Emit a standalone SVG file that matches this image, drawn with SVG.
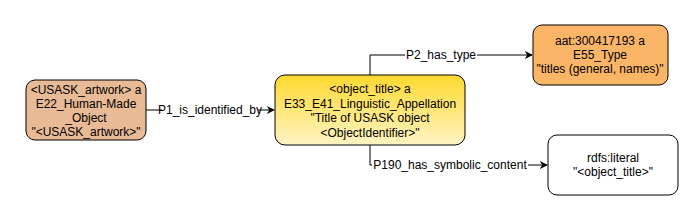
<svg xmlns="http://www.w3.org/2000/svg" width="695" height="221" viewBox="0 0 695 221">
<style>
text{font-family:"Liberation Sans",Arial,sans-serif;font-size:12px;fill:#000;text-anchor:middle}
.n{stroke:#000;stroke-width:1}
.e{fill:none;stroke:#000;stroke-width:1}
.lbl{fill:#fff}
</style>
<defs>
<linearGradient id="yg" x1="0" y1="0" x2="0" y2="1">
<stop offset="0" stop-color="#FFD92E"/>
<stop offset="1" stop-color="#FFF4C4"/>
</linearGradient>
<marker id="arr" viewBox="0 0 10 10" refX="9" refY="5" markerWidth="8" markerHeight="8" orient="auto" markerUnits="userSpaceOnUse">
<path d="M0,0 L10,5 L0,10 L3,5 Z" fill="#000"/>
</marker>
</defs>
<rect width="695" height="221" fill="#fff"/>
<g id="connectors">
<path class="e" d="M146,110 H274" marker-end="url(#arr)"/>
<rect class="lbl" x="162" y="103" width="96" height="14"/>
<text x="210" y="114">P1_is_identified_by</text>
<path class="e" d="M370,75 V55 H532" marker-end="url(#arr)"/>
<rect class="lbl" x="405" y="48" width="72" height="14"/>
<text x="441" y="59">P2_has_type</text>
<path class="e" d="M370,145 V165 H547" marker-end="url(#arr)"/>
<rect class="lbl" x="372" y="158" width="156" height="14"/>
<text x="450" y="169">P190_has_symbolic_content</text>
</g>
<g id="node-artwork">
<rect class="n" x="26" y="80" width="120" height="60" rx="9" fill="#E8BA96"/>
<text x="86" y="94">&lt;USASK_artwork&gt; a</text>
<text x="86" y="108">E22_Human-Made</text>
<text x="86" y="122">_Object</text>
<text x="86" y="136">"&lt;USASK_artwork&gt;"</text>
</g>
<g id="node-title">
<rect class="n" x="275" y="75" width="190" height="70" rx="10" fill="url(#yg)"/>
<text x="370" y="93">&lt;object_title&gt; a</text>
<text x="370" y="107.5">E33_E41_Linguistic_Appellation</text>
<text x="370" y="122">"Title of USASK object</text>
<text x="370" y="136.5">&lt;ObjectIdentifier&gt;"</text>
</g>
<g id="node-type">
<rect class="n" x="533" y="25" width="135" height="60" rx="9" fill="#FBB567"/>
<text x="600" y="45">aat:300417193 a</text>
<text x="600" y="59">E55_Type</text>
<text x="600" y="73">"titles (general, names)"</text>
</g>
<g id="node-literal">
<rect class="n" x="548" y="135" width="130" height="60" rx="9" fill="#fff"/>
<text x="613" y="162">rdfs:literal</text>
<text x="613" y="176">"&lt;object_title&gt;"</text>
</g>
</svg>
